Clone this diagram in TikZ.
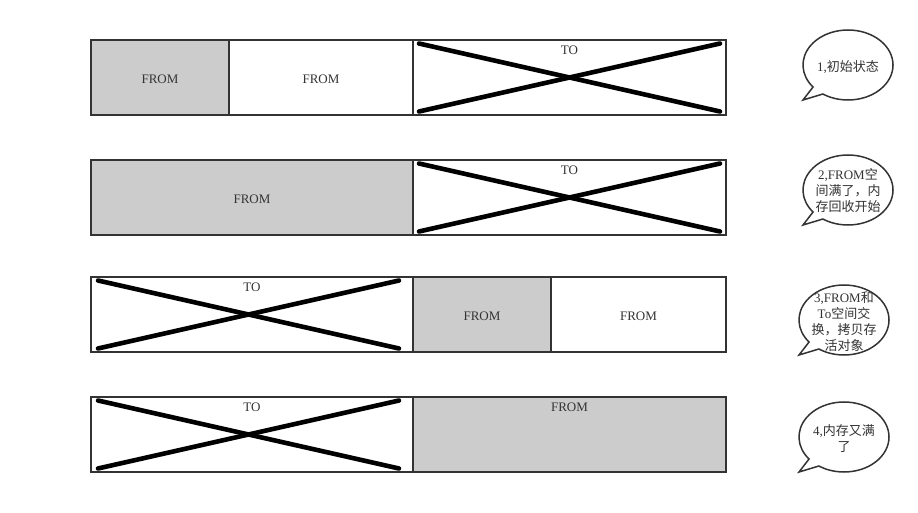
\documentclass[tikz,border=0pt]{standalone}
\usepackage{fontspec}
\setmainfont{Liberation Serif}
\newfontfamily\cjk{Noto Sans CJK SC}
\usetikzlibrary{calc}
\definecolor{edge}{HTML}{333333}
\definecolor{cellgray}{HTML}{CCCCCC}
\tikzset{
  cell/.style={draw=edge, line width=1.5pt, minimum height=75pt, inner sep=0pt, outer sep=0pt},
  fromcell/.style={cell, fill=cellgray},
  tocell/.style={cell, fill=white},
  cross/.style={line width=4.6pt, line cap=round, black},
  celltext/.style={font=\fontsize{13pt}{15pt}\selectfont, text=edge, inner sep=0pt},
  bubble/.style={draw=edge, line width=1.5pt, fill=white},
  btext/.style={font=\fontsize{13pt}{16pt}\selectfont, text=edge, align=center, inner sep=0pt}
}
\begin{document}
\begin{tikzpicture}[x=1pt,y=1pt]
\useasboundingbox (0,0) rectangle (918,512);
% Row 1
\node[fromcell, minimum width=138pt] (a1) at (160,434.5) {};
\node[celltext] (a1t) at (160,433) {FROM};
\node[tocell, minimum width=184pt] (b1) at (321,434.5) {};
\node[celltext] (b1t) at (321,433) {FROM};
\node[tocell, minimum width=313pt] (c1) at (569.5,434.5) {};
\draw[cross] ($(c1.north west)+(6,-3.5)$) -- ($(c1.south east)+(-6,3.5)$);
\draw[cross] ($(c1.south west)+(6,3.5)$) -- ($(c1.north east)+(-6,-3.5)$);
\node[celltext] (t1) at (569.5,462) {TO};
% Row 2
\node[fromcell, minimum width=322pt] (a2) at (252,314.5) {};
\node[celltext] (a2t) at (252,313) {FROM};
\node[tocell, minimum width=313pt] (c2) at (569.5,314.5) {};
\draw[cross] ($(c2.north west)+(6,-3.5)$) -- ($(c2.south east)+(-6,3.5)$);
\draw[cross] ($(c2.south west)+(6,3.5)$) -- ($(c2.north east)+(-6,-3.5)$);
\node[celltext] (t2) at (569.5,342) {TO};
% Row 3
\node[tocell, minimum width=322pt] (c3) at (252,197.5) {};
\draw[cross] ($(c3.north west)+(7,-3.5)$) -- ($(c3.south east)+(-14,3.5)$);
\draw[cross] ($(c3.south west)+(7,3.5)$) -- ($(c3.north east)+(-14,-3.5)$);
\node[celltext] (t3) at (252,225) {TO};
\node[fromcell, minimum width=138pt] (a3) at (482,197.5) {};
\node[celltext] (a3t) at (482,196) {FROM};
\node[tocell, minimum width=175pt] (b3) at (638.5,197.5) {};
\node[celltext] (b3t) at (638.5,196) {FROM};
% Row 4
\node[tocell, minimum width=322pt] (c4) at (252,77.5) {};
\draw[cross] ($(c4.north west)+(7,-3.5)$) -- ($(c4.south east)+(-14,3.5)$);
\draw[cross] ($(c4.south west)+(7,3.5)$) -- ($(c4.north east)+(-14,-3.5)$);
\node[celltext] (t4) at (252,105) {TO};
\node[fromcell, minimum width=313pt] (a4) at (569.5,77.5) {};
\node[celltext] (f4) at (569.5,105) {FROM};
% Bubbles
\coordinate (bc1) at (848,447);
\coordinate (bt1) at (803,412);
\draw[bubble] ($(bc1)+(236:45 and 35)$) arc[start angle=236, end angle=579, x radius=45, y radius=35] -- (bt1) -- cycle;
\node[btext] (bx1) at (848,445) {1,{\cjk 初始状态}};

\coordinate (bc2) at (848,322);
\coordinate (bt2) at (803,287);
\draw[bubble] ($(bc2)+(236:45 and 35)$) arc[start angle=236, end angle=579, x radius=45, y radius=35] -- (bt2) -- cycle;
\node[btext] (bx2) at (848,321) {2,FROM{\cjk 空}\\{\cjk 间满了，内}\\{\cjk 存回收开始}};

\coordinate (bc3) at (844,192);
\coordinate (bt3) at (799,157);
\draw[bubble] ($(bc3)+(236:45 and 35)$) arc[start angle=236, end angle=579, x radius=45, y radius=35] -- (bt3) -- cycle;
\node[btext] (bx3) at (844,190) {3,FROM{\cjk 和}\\To{\cjk 空间交}\\{\cjk 换，拷贝存}\\{\cjk 活对象}};

\coordinate (bc4) at (844,75);
\coordinate (bt4) at (799,40);
\draw[bubble] ($(bc4)+(236:45 and 35)$) arc[start angle=236, end angle=579, x radius=45, y radius=35] -- (bt4) -- cycle;
\node[btext] (bx4) at (844,73) {4,{\cjk 内存又满}\\{\cjk 了}};
\end{tikzpicture}
\end{document}
